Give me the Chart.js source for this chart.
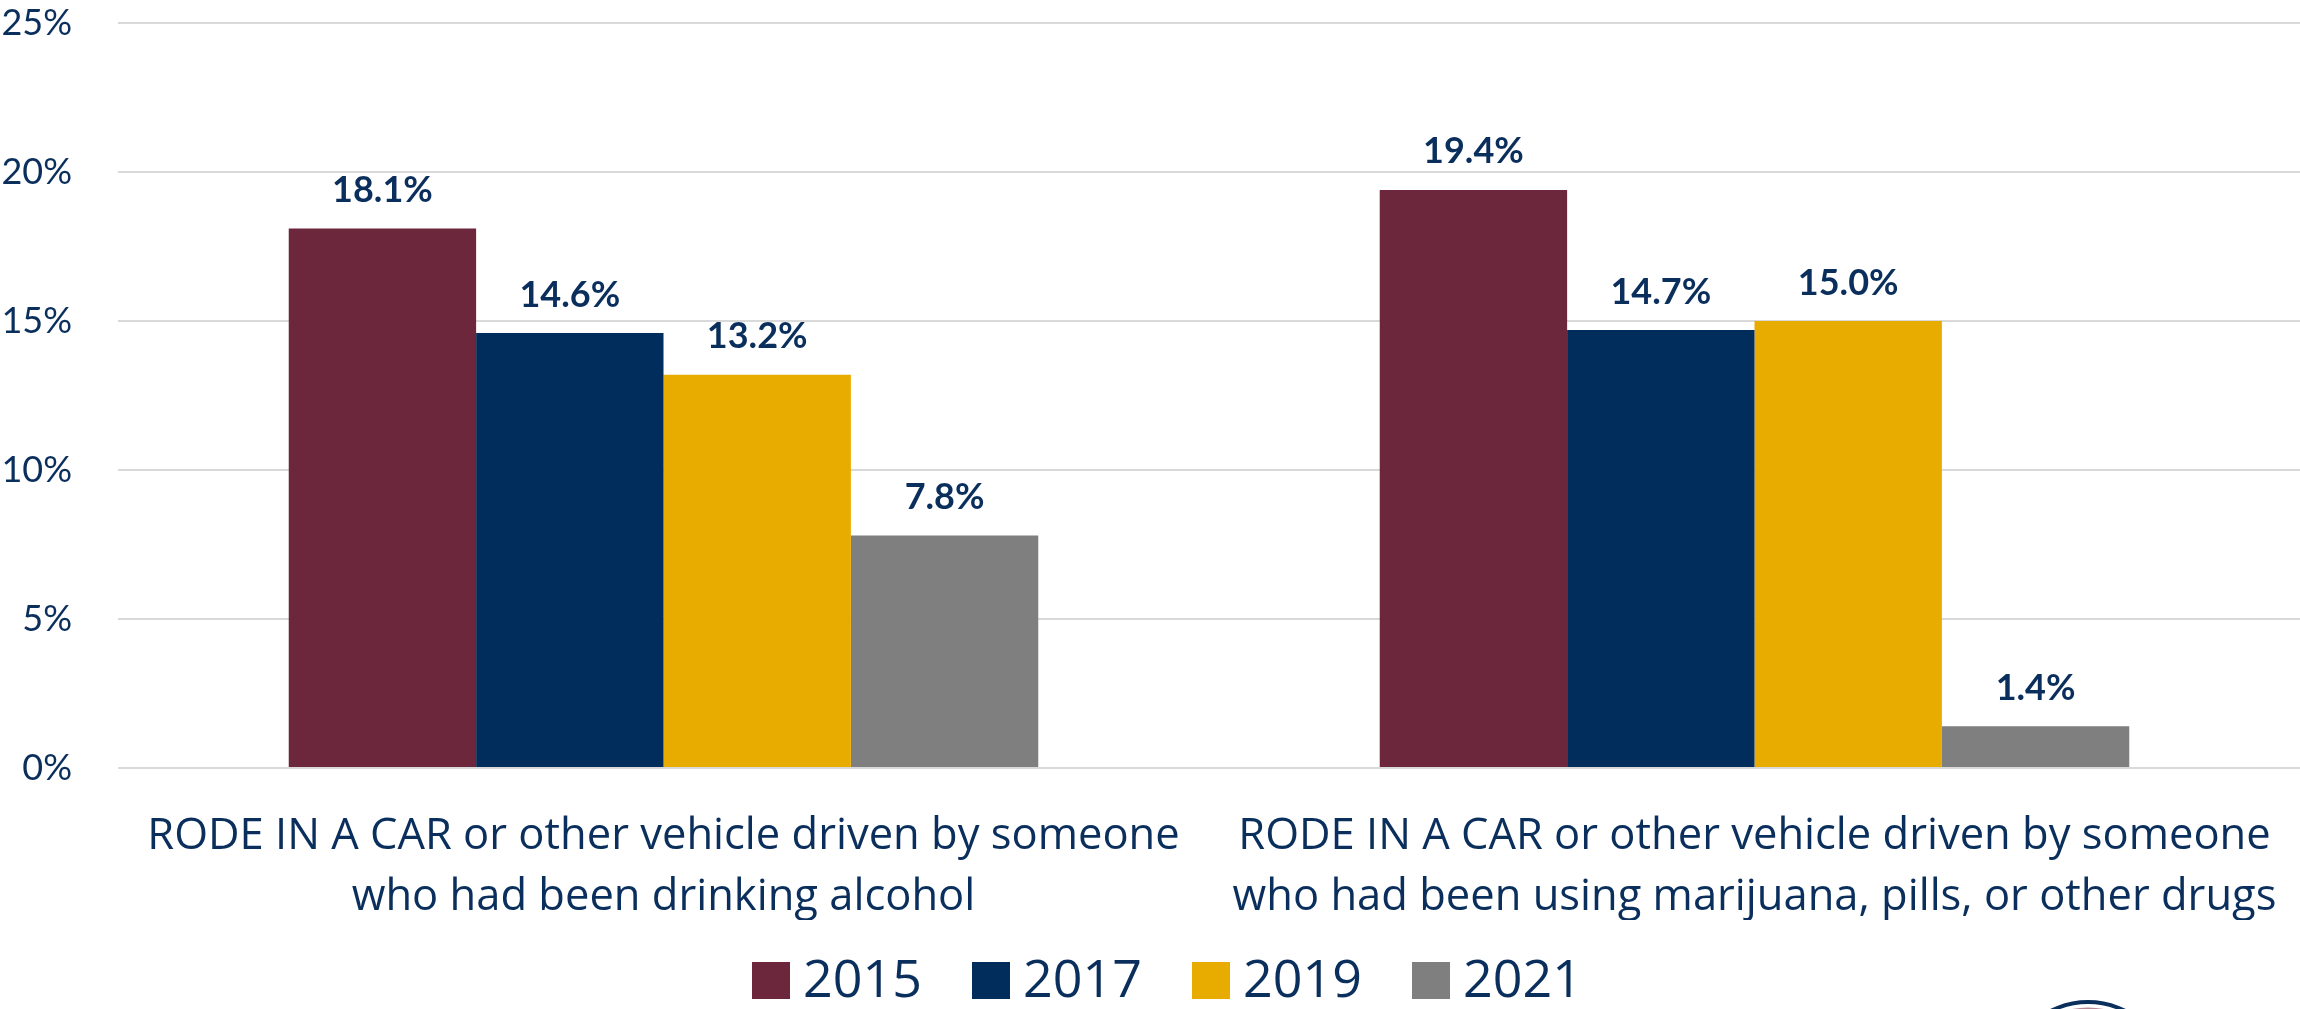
<!DOCTYPE html>
<html>
<head>
<meta charset="utf-8">
<script src="https://cdn.jsdelivr.net/npm/chart.js@4.4.1/dist/chart.umd.min.js"></script>
<style>
  html, body { margin: 0; padding: 0; background: #fff; }
</style>
</head>
<body>
<canvas id="myChart" width="2300" height="1009"></canvas>
<script>
var categories = [
    ['RODE IN A CAR or other vehicle driven by someone', 'who had been drinking alcohol'],
    ['RODE IN A CAR or other vehicle driven by someone', 'who had been using marijuana, pills, or other drugs']
];
var years = ['2015', '2017', '2019', '2021'];
var values2015 = [18.1, 19.4];
var values2017 = [14.6, 14.7];
var values2019 = [13.2, 15.0];
var values2021 = [7.8, 1.4];
var yTickMax = 25;
var yTickStep = 5;

var colors = ['#6D273D', '#002D5C', '#E8AB00', '#7F7F7F'];
var navy = '#0B2F5C';

// bar value labels, e.g. "18.1%"
var valueLabels = {
    id: 'valueLabels',
    afterDatasetsDraw: function (chart) {
        var ctx = chart.ctx;
        ctx.save();
        ctx.font = 'bold 36px Lato';
        ctx.fillStyle = navy;
        ctx.textAlign = 'center';
        ctx.textBaseline = 'middle';
        chart.data.datasets.forEach(function (ds, i) {
            var meta = chart.getDatasetMeta(i);
            meta.data.forEach(function (bar, j) {
                ctx.fillText(ds.data[j].toFixed(1) + '%', bar.x, bar.y - 38);
            });
        });
        ctx.restore();
    }
};

// legend row under the axis labels (squares + years)
var yearLegend = {
    id: 'yearLegend',
    afterDraw: function (chart) {
        var ctx = chart.ctx;
        var startX = 752, step = 220, cy = 980;
        ctx.save();
        ctx.font = '52px "Open Sans"';
        ctx.textBaseline = 'middle';
        ctx.textAlign = 'left';
        chart.data.datasets.forEach(function (ds, i) {
            var x = startX + i * step;
            ctx.fillStyle = ds.backgroundColor;
            ctx.fillRect(x, cy - 18, 38, 37);
            ctx.fillStyle = navy;
            ctx.fillText(ds.label, x + 51, cy + 2);
        });
        ctx.restore();
    }
};

// cut-off seal in the bottom right corner
var seal = {
    id: 'seal',
    afterDraw: function (chart) {
        var ctx = chart.ctx;
        ctx.save();
        ctx.beginPath();
        ctx.arc(2088, 1084, 82, 0, Math.PI * 2);
        ctx.lineWidth = 4;
        ctx.strokeStyle = navy;
        ctx.stroke();
        ctx.beginPath();
        ctx.arc(2088, 1084, 75, 0, Math.PI * 2);
        ctx.lineWidth = 3;
        ctx.strokeStyle = '#B98A98';
        ctx.stroke();
        ctx.restore();
    }
};

var chartData = {
    labels: categories,
    datasets: [
        { label: years[0], data: values2015, backgroundColor: colors[0] },
        { label: years[1], data: values2017, backgroundColor: colors[1] },
        { label: years[2], data: values2019, backgroundColor: colors[2] },
        { label: years[3], data: values2021, backgroundColor: colors[3] }
    ]
};

var config = {
    type: 'bar',
    data: chartData,
    options: {
        responsive: false,
        animation: false,
        layout: { padding: { top: 23, right: 0, left: 0, bottom: 89 } },
        datasets: {
            bar: { barPercentage: 1, categoryPercentage: 0.687 }
        },
        plugins: {
            tooltip: { enabled: false },
            legend: { display: false }
        },
        scales: {
            x: {
                grid: { display: false },
                border: { display: false },
                afterFit: function (scale) {
                    scale.height = 152;
                    scale.paddingLeft = 0;
                    scale.paddingRight = 0;
                },
                ticks: {
                    color: navy,
                    padding: 30,
                    maxRotation: 0,
                    autoSkip: false,
                    font: { family: 'Open Sans', size: 43.5, lineHeight: 1.4 }
                }
            },
            y: {
                min: 0,
                max: yTickMax,
                afterFit: function (scale) {
                    scale.width = 118;
                    scale.paddingTop = 0;
                    scale.paddingBottom = 0;
                },
                grid: { color: '#D9D9D9', lineWidth: 2, drawTicks: false },
                border: { display: false },
                ticks: {
                    stepSize: yTickStep,
                    color: navy,
                    padding: 46,
                    font: { family: 'Lato', size: 36 },
                    callback: function (v) { return v + '%'; }
                }
            }
        }
    },
    plugins: [valueLabels, yearLegend, seal]
};

var ctx = document.getElementById('myChart').getContext('2d');
var myChart = new Chart(ctx, config);
</script>
</body>
</html>
